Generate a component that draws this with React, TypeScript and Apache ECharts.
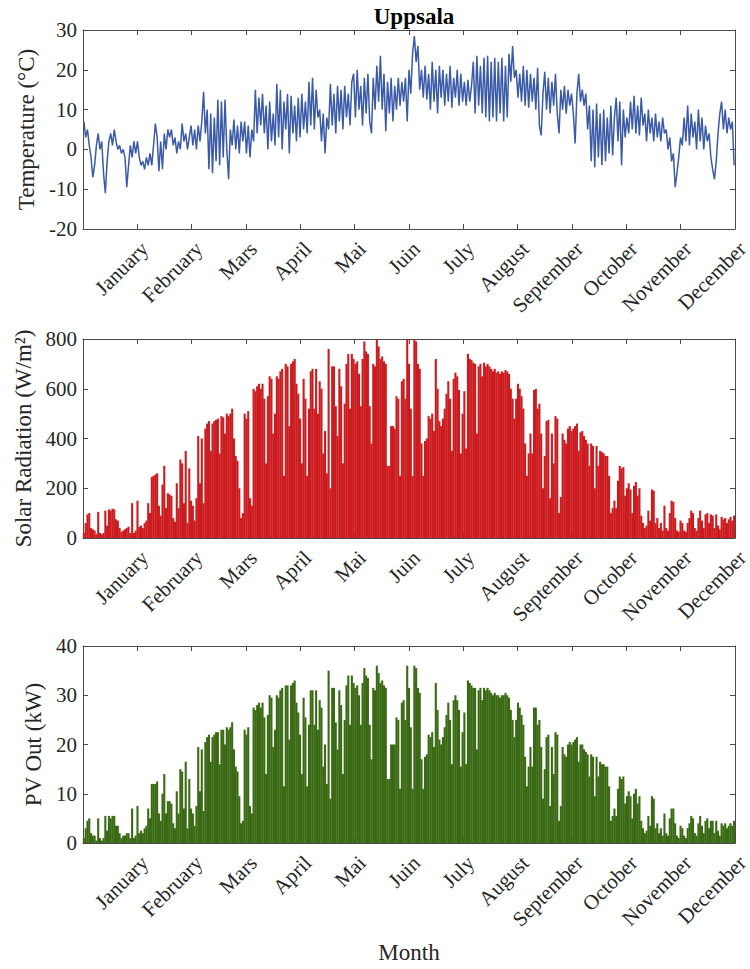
import React, { useEffect, useRef } from "react";
import * as echarts from "echarts";

const MONTHS = [
  "January", "February", "Mars", "April", "Mai", "Juin",
  "July", "August", "September", "October", "November", "December",
];

// Temperature (°C), one reading per day (alternating day/night samples)
const TEMPERATURE = [
  7, 3, 5, 1, -2, -7, -4, 1, 4, 0, 2, -6, -11, -3, 2, 4, 1, 5, 2, 0, 1, -1, 0, -2, -9.5, -4, 1, -2, 2, -1, 2,
  -2, -4, -3, -5, -2, -4, -1, -4, 1, 6.5, 3, -5.5, 2, -5, 4, 0, 5, 3, 5, 1, 3, -1, 2, 0, 6.5, 2, 4, 0,
  3, 6, 1, 5, 0, 6, 2, 7, 14.5, 4, 10, -5, 9, -6, 8, -3, 12.5, -4, 12, -2, 12.5, 0, -7.5, 5, 1, 7.5, 0, 6, -1, 7, 2,
  7, -1, 6, -2, 5, 2, 15, 4, 13, 6, 14, 4, 11, 0, 12, 2, 9, 1, 16.5, 3, 15, 0, 12, 5, 14, -1, 13.5, 4, 11, 2,
  13, 3, 14, 5, 12, 4, 17, 6, 18, 5, 15, 8, 10, 2, 9, -1, 8, 5, 16.5, 6, 14, 4, 16, 7, 15, 5, 16, 8, 14, 6, 17,
  19, 8, 20, 10, 16, 6, 18, 9, 19, 7, 4, 18, 10, 21, 12, 23.5, 10, 19, 4.5, 17, 9, 18, 7, 16, 10, 18, 11, 17, 12, 18,
  7, 20, 14, 24, 28.5, 22, 26, 15, 20, 13, 21, 12.5, 19, 10, 22, 12, 20, 9, 21, 13, 20, 11, 19, 12, 21, 10.5, 18, 13, 20, 11, 19,
  12, 17, 11, 17.5, 12, 16, 22, 9, 23.5, 11, 21, 9, 23, 8, 23.5, 7, 22, 8, 23, 7, 22, 9, 23, 7, 21, 8, 24, 17, 26, 18, 20,
  13, 19, 12, 21, 11, 20, 10.5, 19, 12, 18, 10, 20.5, 6, 3.5, 14, 19.5, 10, 18, 9, 17, 11, 19, 9, 4, 15, 10, 16, 9, 15, 11,
  14, 9, 1.5, 14, 19, 12, 15, 11, 14, 5, 11, -3, 10, -4.5, 11.5, -2, 9, -4, 10, -3, 8, -1, 11, -1.5, 8, 13, 2, 12, -4, 10, 3,
  8, 4, 12, 5, 13.5, 4, 11, 3.5, 13, 6, 9, 2, 10, 4, 8, 2, 9, 3, 7, 2, 8, 4, 5, 0, 3, -3, -1, -9.5, -6, -2,
  3, 1, 8, 2, 11, 1, 9, 3, 7, 0, 10, 2, 8, 0, 6, 2, 4, -2, -5, -7.5, -3, 4, 9, 12, 5, 10, 4, 8, 5, 7, -4,
];

// Daily peak solar radiation (W/m²)
const SOLAR = [
  20, 60, 95, 100, 40, 35, 30, 15, 105, 20, 15, 20, 110, 50, 115, 110, 118, 115, 75, 70, 40, 25, 30, 35, 40, 45, 20, 140, 20, 30, 150,
  45, 50, 40, 60, 70, 140, 100, 245, 250, 255, 260, 130, 90, 215, 290, 120, 180, 175, 170, 80, 65, 220, 120, 315, 300, 140, 350, 60,
  280, 150, 130, 70, 160, 410, 220, 400, 140, 440, 460, 470, 350, 460, 470, 475, 480, 340, 490, 485, 420, 500, 490, 500, 520, 400, 330, 310, 200, 80, 100,
  500, 480, 510, 160, 130, 600, 590, 610, 620, 600, 620, 560, 300, 570, 650, 640, 420, 500, 650, 640, 670, 680, 250, 700, 690, 450, 700, 710, 720, 620,
  580, 480, 300, 640, 560, 250, 520, 670, 680, 520, 680, 500, 630, 600, 340, 430, 260, 760, 200, 690, 690, 530, 410, 680, 610, 300, 540, 700, 740, 520, 740,
  720, 700, 710, 660, 530, 720, 790, 750, 740, 530, 380, 700, 690, 800, 770, 720, 730, 710, 700, 290, 290, 450, 450, 440, 570, 560, 250, 630, 640, 560,
  800, 700, 520, 250, 800, 790, 700, 680, 380, 250, 390, 400, 490, 480, 500, 430, 720, 600, 470, 450, 480, 520, 580, 630, 560, 350, 640, 665, 650, 595, 340,
  500, 590, 360, 740, 720, 715, 705, 700, 420, 690, 700, 650, 705, 690, 700, 690, 680, 670, 680, 665, 670, 660, 670, 665, 675, 670, 660, 600, 560, 480, 560,
  620, 600, 570, 520, 380, 250, 340, 420, 340, 595, 600, 520, 540, 420, 200, 330, 470, 475, 160, 420, 300, 490, 480, 100, 165, 420, 395, 380, 440, 450,
  430, 440, 450, 460, 350, 425, 430, 410, 395, 380, 290, 380, 370, 200, 370, 290, 350, 345, 340, 330, 330, 250, 100, 120, 150, 120, 230, 290, 280, 285, 170,
  200, 220, 195, 100, 210, 225, 170, 200, 90, 60, 40, 50, 110, 70, 195, 190, 60, 80, 40, 60, 30, 130, 40, 30, 100, 150, 145, 80, 30, 25,
  70, 60, 30, 25, 60, 80, 110, 100, 40, 30, 80, 110, 70, 40, 95, 100, 60, 95, 90, 40, 95, 50, 35, 85, 75, 80, 60, 75, 85, 70, 90,
];

// Daily peak PV output (kW)
const PV_OUT = [
  1, 3, 4.5, 5, 2, 1.5, 1.5, 0.5, 5, 1, 0.5, 1, 5.5, 2.5, 5.5, 5, 5.5, 5.5, 3.5, 3.5, 2, 1, 1.5, 1.5, 2, 2, 1, 7, 1, 1.5, 7.5,
  2, 2.5, 2, 3, 3.5, 7, 5, 12, 12, 12, 12.5, 6, 4.5, 10, 14, 6, 8.5, 8.5, 8, 4, 3, 10.5, 6, 15, 14.5, 7, 16.5, 3,
  13, 7, 6, 3.5, 7.5, 19.5, 10.5, 19, 6.5, 20.5, 21.5, 22, 16.5, 21.5, 22, 22.5, 22.5, 16, 23, 23, 20, 23.5, 23, 23.5, 24.5, 19, 15.5, 14.5, 9.5, 4, 4.5,
  23, 22, 23.5, 7.5, 6, 27.5, 27, 28, 28.5, 27.5, 28.5, 25.5, 14, 26, 30, 29.5, 19.5, 23, 30, 29.5, 31, 31.5, 11.5, 32, 32, 21, 32, 32.5, 33, 28.5,
  26.5, 22, 14, 29.5, 25.5, 11.5, 24, 31, 31, 24, 31, 23, 29, 27.5, 15.5, 20, 12, 35, 9, 31.5, 31.5, 24.5, 19, 31, 28, 14, 25, 32, 34, 24, 34,
  32.5, 31.5, 32, 30, 24, 32.5, 35.5, 34, 33.5, 24, 17, 31.5, 31, 36, 34.5, 32.5, 33, 32, 31.5, 13, 13, 20, 20, 20, 25.5, 25, 11, 28.5, 29, 25,
  36, 31.5, 23.5, 11, 36, 35.5, 31.5, 30.5, 17, 11, 17.5, 18, 22, 21.5, 22.5, 19.5, 32.5, 27, 21, 20, 21.5, 23.5, 26, 28.5, 25, 16, 29, 30, 29, 27, 15.5,
  22.5, 26.5, 16, 33, 32.5, 32, 31.5, 31.5, 19, 31, 31.5, 29, 31.5, 31, 31.5, 31, 30.5, 30, 30.5, 30, 30, 29.5, 30, 30, 30.5, 30, 29.5, 27, 25, 21.5, 25,
  28.5, 27.5, 26, 24, 17.5, 11.5, 15.5, 19.5, 15.5, 27.5, 27.5, 24, 25, 19.5, 9, 15, 21.5, 22, 7.5, 19.5, 14, 22.5, 22, 4.5, 7.5, 19.5, 18, 17.5, 20, 20.5,
  20, 20.5, 21, 21.5, 16.5, 20, 20, 19, 18.5, 18, 13.5, 18, 17.5, 9.5, 17.5, 13.5, 16.5, 16, 16, 15.5, 15.5, 11.5, 4.5, 5.5, 7, 5.5, 11, 13.5, 13, 13.5, 8,
  9.5, 10.5, 9.5, 5, 10, 11, 8, 9.5, 4.5, 3, 2, 2.5, 5.5, 3.5, 9.5, 9, 3, 4, 2, 3, 1.5, 6, 2, 1.5, 5, 7, 7, 4, 1.5, 1,
  3.5, 3, 1.5, 1, 3, 4, 5.5, 5, 2, 1.5, 4, 5.5, 3.5, 2, 4.5, 5, 3, 4.5, 4.5, 2, 4.5, 2.5, 1.5, 4, 3.5, 4, 3, 3.5, 4, 3.5, 4.5,
];

const TEMP_AXIS = { min: -20, max: 30, interval: 10 };
const SOLAR_AXIS = { min: 0, max: 800, interval: 200 };
const PV_AXIS = { min: 0, max: 40, interval: 10 };

const FONT = "'Liberation Serif', 'Times New Roman', serif";
const AXIS_COLOR = "#4a4a4a";
const TEXT_COLOR = "#262626";
const DAYS_IN_YEAR = 365;

function toPoints(values: number[]) {
  return values.map((v, i) => [((i + 0.5) * 12) / DAYS_IN_YEAR, v]);
}

export default function App() {
  const ref = useRef<HTMLDivElement>(null);

  useEffect(() => {
    if (!ref.current) return;
    const chart = echarts.init(ref.current, null, { renderer: "svg" });

    const grids = [
      { left: 83, top: 30, width: 652, height: 199, outerBoundsMode: "none" },
      { left: 83, top: 339, width: 652, height: 199, outerBoundsMode: "none" },
      { left: 83, top: 646, width: 652, height: 197, outerBoundsMode: "none" },
    ];

    const lineStyle = { color: AXIS_COLOR, width: 1 };
    const tick = { show: true, inside: true, length: 5, lineStyle };

    const xAxes: any[] = [];
    const yAxes: any[] = [];
    const yCfg = [
      { ...TEMP_AXIS, name: "Temperature (°C)", gap: 42 },
      { ...SOLAR_AXIS, name: "Solar Radiation (W/m²)", gap: 42 },
      { ...PV_AXIS, name: "PV Out (kW)", gap: 32 },
    ];

    grids.forEach((_, gi) => {
      xAxes.push({
        type: "value",
        gridIndex: gi,
        position: "bottom",
        min: 0,
        max: 12,
        interval: 1,
        axisLine: { show: true, onZero: false, lineStyle },
        axisTick: tick,
        splitLine: { show: false },
        axisLabel: {
          show: true,
          rotate: 45,
          align: "right",
          verticalAlign: "top",
          margin: 9,
          fontFamily: FONT,
          fontSize: 21,
          color: TEXT_COLOR,
          formatter: (v: number) => {
            const k = Math.round(v);
            return k >= 1 && k <= 12 ? MONTHS[k - 1] : "";
          },
        },
        ...(gi === 2
          ? {
              name: "Month",
              nameLocation: "middle",
              nameGap: 98,
              nameTextStyle: { fontFamily: FONT, fontSize: 23, color: TEXT_COLOR },
            }
          : {}),
      });
      xAxes.push({
        type: "value",
        gridIndex: gi,
        position: "top",
        min: 0,
        max: 12,
        interval: 1,
        axisLine: { show: true, onZero: false, lineStyle },
        axisTick: tick,
        splitLine: { show: false },
        axisLabel: { show: false },
      });
      const c = yCfg[gi];
      yAxes.push({
        type: "value",
        gridIndex: gi,
        position: "left",
        min: c.min,
        max: c.max,
        interval: c.interval,
        axisLine: { show: true, onZero: false, lineStyle },
        axisTick: tick,
        splitLine: { show: false },
        axisLabel: { fontFamily: FONT, fontSize: 21, color: TEXT_COLOR, margin: 6 },
        name: c.name,
        nameLocation: "middle",
        nameGap: c.gap,
        nameTextStyle: { fontFamily: FONT, fontSize: 23, color: TEXT_COLOR },
      });
      yAxes.push({
        type: "value",
        gridIndex: gi,
        position: "right",
        min: c.min,
        max: c.max,
        interval: c.interval,
        axisLine: { show: true, onZero: false, lineStyle },
        axisTick: tick,
        splitLine: { show: false },
        axisLabel: { show: false },
      });
    });

    chart.setOption({
      animation: false,
      backgroundColor: "#ffffff",
      title: {
        text: "Uppsala",
        left: 409,
        top: 0,
        textAlign: "center",
        textStyle: { fontFamily: FONT, fontWeight: "bold", fontSize: 23, color: "#000" },
      },
      grid: grids,
      xAxis: xAxes,
      yAxis: yAxes,
      series: [
        {
          name: "Temperature",
          type: "line",
          xAxisIndex: 0,
          yAxisIndex: 0,
          data: toPoints(TEMPERATURE),
          symbol: "none",
          lineStyle: { color: "#3b5ba9", width: 1.5 },
          clip: true,
        },
        {
          name: "Solar Radiation",
          type: "bar",
          xAxisIndex: 2,
          yAxisIndex: 2,
          data: toPoints(SOLAR),
          barWidth: 2.1,
          itemStyle: { color: "#cc1c1f" },
        },
        {
          name: "PV Out",
          type: "bar",
          xAxisIndex: 4,
          yAxisIndex: 4,
          data: toPoints(PV_OUT),
          barWidth: 2.1,
          itemStyle: { color: "#3a6a14" },
        },
      ],
    });

    return () => chart.dispose();
  }, []);

  return (
    <div
      ref={ref}
      style={{ position: "absolute", left: 0, top: 0, width: 750, height: 969, background: "#fff" }}
    />
  );
}
